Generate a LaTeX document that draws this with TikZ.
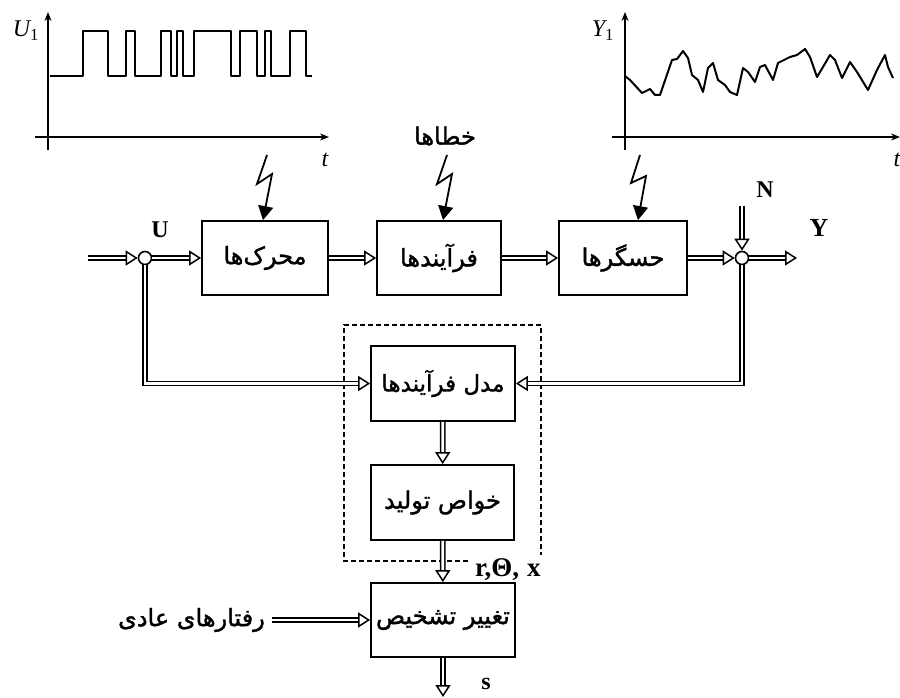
\documentclass[tikz,border=0pt]{standalone}
\usepackage{fontspec}
\setmainfont{Liberation Serif}
\newfontfamily\arabicfont[Script=Arabic, FakeBold=1.5]{DejaVu Sans}
\TeXXeTstate=1
\usetikzlibrary{arrows.meta,calc}
\begin{document}
\begin{tikzpicture}[x=1pt,y=-1pt,
  blk/.style={draw, line width=1.8pt, minimum height=74pt, inner sep=0pt, font=\arabicfont\fontsize{24}{26}\selectfont},
  dbl/.style={double, double distance=2.8pt, line width=1.5pt, -{Triangle[open, length=12pt, width=15pt, line width=1.5pt]}},
  sumj/.style={draw, circle, line width=1.6pt, fill=white, minimum size=13pt, inner sep=0pt},
  bolt/.style={line width=1.8pt, -{Triangle[length=14pt, width=15pt]}},
  axis/.style={line width=1.6pt, -{Stealth[length=9pt, width=7pt]}},
  sig/.style={line width=2pt, line join=round},
  bl/.style={font=\bfseries\fontsize{24}{26}\selectfont, inner sep=0pt},
  it/.style={font=\itshape\fontsize{24}{26}\selectfont, inner sep=0pt},
  ar/.style={font=\arabicfont\fontsize{24}{26}\selectfont, inner sep=1pt}
]
\useasboundingbox (0,0) rectangle (900,698);

% ---- left graph ----
\draw[axis] (48,150) -- (48,12);
\draw[axis] (35,137) -- (329,137);
\node[it] (u1) at (26,31) {U\textsubscript{\upshape 1}};
\node[it] (t1) at (325,160) {t};
\draw[sig] (50,76) -| (83,31) -| (108,76) -| (126,31) -| (135,76) -| (161,31) -| (171,76) -| (177,31) -| (183,76) -| (194,31) -| (231,76) -| (240,31) -| (257,76) -| (265,31) -| (271,76) -| (290,31) -| (306,76) -- (312,76);

% ---- right graph ----
\draw[axis] (625,150) -- (625,12);
\draw[axis] (612,137) -- (900,137);
\node[it] (y1) at (603,31) {Y\textsubscript{\upshape 1}};
\node[it] (t2) at (897,160) {t};
\draw[sig] (625,76) -- (630,80) -- (642,93) -- (650,89) -- (655,95) -- (660,95) -- (672,60) -- (677,59) -- (683,51) -- (688,58) -- (692,75) -- (698,80) -- (703,92) -- (708,68) -- (713,63) -- (718,80) -- (725,85) -- (730,92) -- (737,95) -- (743,68) -- (748,72) -- (755,82) -- (760,67) -- (765,65) -- (773,80) -- (778,63) -- (790,57) -- (797,55) -- (805,49) -- (810,57) -- (817,77) -- (823,67) -- (830,55) -- (835,60) -- (842,78) -- (850,62) -- (857,72) -- (868,90) -- (877,70) -- (885,55) -- (888,67) -- (893,78);

% ---- main row ----
\node[blk, minimum width=126pt] (b1) at (265,258) {\beginR محرک‌ها\endR};
\node[blk, minimum width=124pt] (b2) at (439,258) {\beginR فرآیندها\endR};
\node[blk, minimum width=128pt] (b3) at (623,258) {\beginR حسگرها\endR};
\node[sumj] (c1) at (145,258) {};
\node[sumj] (c2) at (742,258) {};
\node[bl] (U) at (160,230) {U};
\node[bl] (N) at (765,190) {N};
\node[bl, font=\bfseries\fontsize{26}{28}\selectfont] (Y) at (819,228) {Y};
\coordinate (in) at (88,258);
\coordinate (yout) at (797,258);
\coordinate (nin) at (742,206);
\draw[dbl] (in) -- (c1);
\draw[dbl] (c1) -- (b1);
\draw[dbl] (b1) -- (b2);
\draw[dbl] (b2) -- (b3);
\draw[dbl] (b3) -- (c2);
\draw[dbl] (c2) -- (yout);
\draw[dbl] (nin) -- (c2);

% ---- disturbances ----
\node[ar] (err) at (445,136) {\beginR خطاها\endR};
\draw[bolt] (267,155) -- (257,184) -- (272,174) -- ([xshift=-2pt]b1.north);
\draw[bolt] (447,155) -- (437,184) -- (452,174) -- ([xshift=4pt]b2.north);
\draw[bolt] (640,155) -- (631,183) -- (646,176) -- ([xshift=15pt]b3.north);

% ---- lower chain ----
\draw[line width=1.5pt, dash pattern=on 5pt off 3pt] (468,561) -- (344,561) -- (344,325) -- (541,325) -- (541,555);
\node[blk, minimum width=144pt, minimum height=75pt, font=\arabicfont\fontsize{23}{25}\selectfont] (m1) at (443,383.5) {\beginR مدل فرآیندها\endR};
\node[blk, minimum width=143pt, minimum height=75pt] (m2) at (442.5,502.5) {\beginR خواص تولید\endR};
\node[blk, minimum width=144pt, minimum height=74pt] (m3) at (443,620) {\beginR تغییر تشخیص\endR};
\draw[dbl] (c1.south) |- (m1.west);
\draw[dbl] (c2.south) |- (m1.east);
\draw[dbl] (m1) -- (m2);
\draw[dbl] (m2) -- (m3);
\coordinate (sout) at (443,697);
\draw[dbl] (m3) -- (sout);
\node[bl] (s) at (486,684) {s};
\node[bl, anchor=west, font=\bfseries\fontsize{27}{29}\selectfont] (rtx) at (475,570) {r,Θ,\hspace{8pt}x};
\node[ar, anchor=east] (rf) at (266,620) {\beginR رفتارهای عادی\endR};
\draw[dbl] ([xshift=6pt]rf.east) -- (m3.west);
\end{tikzpicture}
\end{document}
